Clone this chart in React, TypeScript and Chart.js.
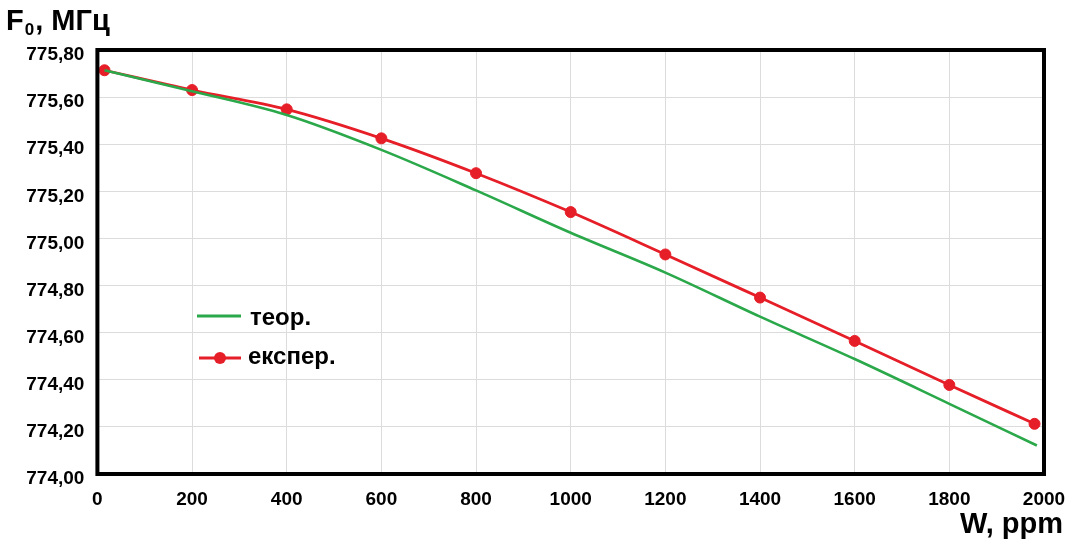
import React, { useEffect, useRef } from "react";
import { Chart, registerables } from "chart.js";

Chart.register(...registerables);

// ---- data ----
const seriesLabels = ["теор.", "експер."];
const theorX = [15, 200, 400, 600, 800, 1000, 1200, 1400, 1600, 1800, 1985];
const theorY = [775.714, 775.625, 775.524, 775.376, 775.204, 775.024, 774.855, 774.668, 774.488, 774.298, 774.121];
const expX = [15, 200, 400, 600, 800, 1000, 1200, 1400, 1600, 1800, 1980];
const expY = [775.714, 775.63, 775.548, 775.425, 775.277, 775.112, 774.932, 774.749, 774.565, 774.378, 774.213];
const xTicks = [0, 200, 400, 600, 800, 1000, 1200, 1400, 1600, 1800, 2000];
const yTicks = [774.0, 774.2, 774.4, 774.6, 774.8, 775.0, 775.2, 775.4, 775.6, 775.8];
const yTitleMain = "F";
const yTitleSub = "0";
const yTitleRest = ", МГц";
const xTitle = "W, ppm";

const GREEN = "#2aa84a";
const RED = "#e61e28";
const FONT = "'Liberation Sans', Arial, sans-serif";

const decorPlugin = {
  id: "decor",
  afterDatasetsDraw(chart: any) {
    const { ctx, chartArea } = chart;
    ctx.save();
    // frame
    ctx.strokeStyle = "#000";
    ctx.lineWidth = 4;
    ctx.strokeRect(chartArea.left, chartArea.top, chartArea.right - chartArea.left, chartArea.bottom - chartArea.top);

    // legend
    const ds = chart.data.datasets;
    ctx.font = `bold 24px ${FONT}`;
    ctx.fillStyle = "#000";
    ctx.textAlign = "left";
    ctx.textBaseline = "alphabetic";
    // theor
    ctx.strokeStyle = ds[0].borderColor;
    ctx.lineWidth = 3;
    ctx.beginPath();
    ctx.moveTo(197, 316);
    ctx.lineTo(241, 316);
    ctx.stroke();
    ctx.fillText(ds[0].label, 250, 325);
    // exp
    ctx.strokeStyle = ds[1].borderColor;
    ctx.beginPath();
    ctx.moveTo(199, 358);
    ctx.lineTo(241, 358);
    ctx.stroke();
    ctx.fillStyle = ds[1].pointBackgroundColor;
    ctx.beginPath();
    ctx.arc(220, 358, 6, 0, Math.PI * 2);
    ctx.fill();
    ctx.fillStyle = "#000";
    ctx.fillText(ds[1].label, 248, 364);

    // axis titles
    ctx.font = `bold 29px ${FONT}`;
    ctx.fillText(yTitleMain, 6, 30);
    let w = ctx.measureText(yTitleMain).width;
    ctx.font = `bold 17px ${FONT}`;
    ctx.fillText(yTitleSub, 6 + w + 1, 35);
    const w2 = ctx.measureText(yTitleSub).width;
    ctx.font = `bold 29px ${FONT}`;
    ctx.fillText(yTitleRest, 6 + w + w2 + 2, 30);

    ctx.textAlign = "right";
    ctx.fillText(xTitle, 1063, 533);
    ctx.restore();
  },
};

export default function App() {
  const ref = useRef<HTMLCanvasElement | null>(null);

  useEffect(() => {
    if (!ref.current) return;
    const chart = new Chart(ref.current, {
      type: "line",
      data: {
        datasets: [
          {
            label: seriesLabels[0],
            data: theorX.map((x, i) => ({ x, y: theorY[i] })),
            borderColor: GREEN,
            backgroundColor: GREEN,
            borderWidth: 2.6,
            pointRadius: 0,
            cubicInterpolationMode: "monotone",
          },
          {
            label: seriesLabels[1],
            data: expX.map((x, i) => ({ x, y: expY[i] })),
            borderColor: RED,
            backgroundColor: RED,
            pointBackgroundColor: RED,
            pointBorderColor: RED,
            borderWidth: 2.8,
            pointRadius: 5.5,
            pointBorderWidth: 1,
            cubicInterpolationMode: "monotone",
          },
        ],
      },
      options: {
        responsive: false,
        animation: false,
        layout: { padding: { left: 0, right: 24, top: 50, bottom: 0 } },
        plugins: { legend: { display: false }, tooltip: { enabled: false }, title: { display: false } },
        scales: {
          x: {
            type: "linear",
            min: 0,
            max: 2000,
            afterBuildTicks: (s: any) => {
              s.ticks = xTicks.map((v) => ({ value: v }));
            },
            afterFit: (s: any) => {
              s.height = 67;
              s.paddingLeft = 0;
              s.paddingRight = 0;
            },
            border: { display: false },
            grid: { color: "#dcdcdc", lineWidth: 1, drawTicks: false },
            ticks: {
              padding: 14,
              color: "#000",
              font: { family: FONT, size: 19, weight: "bold" },
              maxRotation: 0,
              autoSkip: false,
              callback: (v: any) => String(v),
            },
          },
          y: {
            type: "linear",
            min: 774,
            max: 775.8,
            afterBuildTicks: (s: any) => {
              s.ticks = yTicks.map((v) => ({ value: v }));
            },
            afterFit: (s: any) => {
              s.width = 97.4;
              s.paddingTop = 0;
              s.paddingBottom = 0;
            },
            border: { display: false },
            grid: { color: "#dcdcdc", lineWidth: 1, drawTicks: false },
            ticks: {
              padding: 13,
              labelOffset: 5,
              color: "#000",
              font: { family: FONT, size: 19, weight: "bold" },
              autoSkip: false,
              callback: (v: any) => Number(v).toFixed(2).replace(".", ","),
            },
          },
        },
      },
      plugins: [decorPlugin],
    } as any);
    return () => chart.destroy();
  }, []);

  return (
    <div style={{ position: "absolute", left: 0, top: 0, width: 1068, height: 541, background: "#fff" }}>
      <canvas ref={ref} width={1068} height={541} style={{ display: "block" }} />
    </div>
  );
}
